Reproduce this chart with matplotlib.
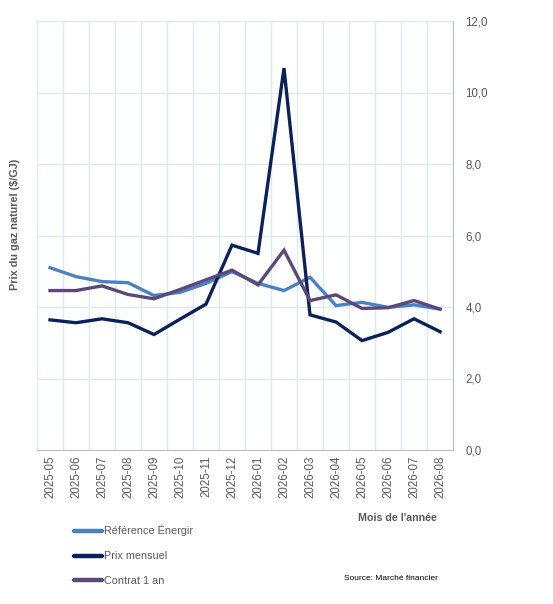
import matplotlib
matplotlib.use("Agg")
import matplotlib.pyplot as plt
from matplotlib.lines import Line2D
from matplotlib.ticker import FuncFormatter, FixedLocator

plt.rcParams['font.family'] = ['Liberation Sans', 'DejaVu Sans']

# ---- data ----
mois = ["2025-05", "2025-06", "2025-07", "2025-08", "2025-09", "2025-10",
        "2025-11", "2025-12", "2026-01", "2026-02", "2026-03", "2026-04",
        "2026-05", "2026-06", "2026-07", "2026-08"]
reference_energir = [5.10, 4.85, 4.71, 4.68, 4.32, 4.41, 4.66, 4.99,
                     4.66, 4.46, 4.83, 4.04, 4.13, 3.99, 4.06, 3.94]
prix_mensuel = [3.64, 3.56, 3.67, 3.56, 3.23, 3.66, 4.08, 5.73,
                5.50, 10.68, 3.78, 3.58, 3.06, 3.29, 3.67, 3.31]
contrat_1an = [4.46, 4.46, 4.59, 4.35, 4.23, 4.49, 4.76, 5.03,
               4.62, 5.59, 4.18, 4.34, 3.96, 3.98, 4.18, 3.94]

series = [("Référence Énergir", reference_energir, "#4a81c2"),
          ("Prix mensuel", prix_mensuel, "#0b2159"),
          ("Contrat 1 an", contrat_1an, "#5c4879")]

txt_col = "#595959"
grid_col = "#dcebf3"
axis_col = "#bfbfbf"

fig = plt.figure(figsize=(5.53, 6.04), dpi=100)
ax = fig.add_axes([37/553, 1 - 450/604, (453 - 37)/553, (450 - 21)/604])

x = list(range(len(mois)))
handles = []
for nom, vals, col in series:
    ax.plot(x, vals, color=col, lw=2.4, solid_joinstyle='miter')
    handles.append(Line2D([], [], color=col, lw=3.2, solid_capstyle='round'))

ax.set_xlim(-0.5, len(mois) - 0.5)
ax.set_ylim(0, 12)
ax.set_yticks([0, 2, 4, 6, 8, 10, 12])
ax.yaxis.set_major_formatter(FuncFormatter(lambda v, p: f"{v:.1f}".replace(".", ",")))
ax.yaxis.tick_right()
ax.set_xticks(x)
ax.set_xticklabels(mois, rotation=90)
ax.xaxis.set_minor_locator(FixedLocator([i - 0.5 for i in range(len(mois) + 1)]))
ax.tick_params(axis='both', which='both', length=0, colors=txt_col, labelsize=8.3)
ax.tick_params(axis='y', pad=9)
ax.tick_params(axis='x', pad=4)

ax.grid(True, axis='y', which='major', color=grid_col, lw=1)
ax.grid(True, axis='x', which='minor', color=grid_col, lw=1)
ax.set_axisbelow(True)
for s in ['top', 'left']:
    ax.spines[s].set_visible(False)
ax.spines['right'].set_color(axis_col)
ax.spines['bottom'].set_color(axis_col)

fig.text(15/553, 1 - 224/604, "Prix du gaz naturel ($/GJ)", rotation=90,
         ha='center', va='center', fontsize=7.8, fontweight='bold', color=txt_col)
fig.text(437/553, 1 - 518/604, "Mois de l'année", ha='right', va='center',
         fontsize=7.7, fontweight='bold', color=txt_col)
fig.text(438/553, 1 - 579/604, "Source: Marché financier", ha='right', va='center',
         fontsize=6, color='#000000')

fig.legend(handles, [s[0] for s in series], loc='upper left',
           bbox_to_anchor=(74/553, 1 - 525/604), frameon=False, fontsize=7.8,
           labelcolor=txt_col, handlelength=2.55, handletextpad=0.25,
           labelspacing=1.37, borderpad=0, borderaxespad=0)

fig.savefig("out.png", dpi=100)
